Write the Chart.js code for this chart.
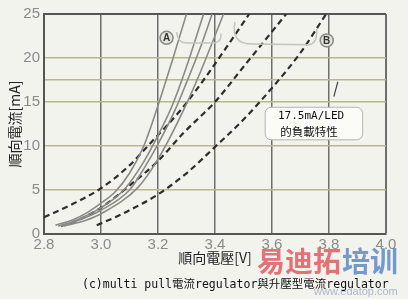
<!DOCTYPE html>
<html>
<head>
<meta charset="utf-8">
<script src="https://cdn.jsdelivr.net/npm/chart.js@4.4.1/dist/chart.umd.min.js"></script>
<style>
    html, body { margin: 0; padding: 0; background: #f3f3ee; }
</style>
</head>
<body>
<canvas id="vf-grafica" width="408" height="299"></canvas>
<script>
const xTicks = [2.8, 3.0, 3.2, 3.4, 3.6, 3.8, 4.0];
const yTicks = [0, 5, 10, 15, 17.5, 20, 25];
const yLabels = [0, 5, 10, 15, 20, 25];

// grupo A (lineas continuas)
const curvaA1 = [[2.84,1.0],[2.9,1.6],[2.95,2.4],[3.0,3.5],[3.05,4.8],[3.1,6.9],[3.15,10.0],[3.2,14.6],[3.25,19.7],[3.3,25]];
const curvaA2 = [[2.85,0.9],[2.9,1.4],[3.0,3.0],[3.08,5.0],[3.15,8.2],[3.2,11.2],[3.25,14.6],[3.3,19.0],[3.36,25]];
const curvaA3 = [[2.86,0.9],[2.9,1.3],[3.0,2.7],[3.1,5.0],[3.15,7.4],[3.2,10.2],[3.26,14.1],[3.3,17.2],[3.35,21.3],[3.39,25]];
const curvaA4 = [[2.87,0.9],[2.95,1.6],[3.0,2.3],[3.13,5.3],[3.2,8.5],[3.29,14.1],[3.35,18.5],[3.43,25]];

// grupo B (lineas de trazos)
const curvaB1 = [[2.8,1.9],[2.9,3.4],[3.0,5.2],[3.1,7.8],[3.17,10.2],[3.28,14.1],[3.36,17.5],[3.44,21.2],[3.52,25]];
const curvaB2 = [[2.86,0.9],[2.9,1.3],[3.0,3.0],[3.1,5.5],[3.2,8.3],[3.29,11.5],[3.36,13.7],[3.4,15.0],[3.5,19.0],[3.6,23.0],[3.65,25]];
const curvaB3 = [[2.985,1.0],[3.05,1.9],[3.1,2.7],[3.2,4.5],[3.3,6.9],[3.4,9.9],[3.5,13.0],[3.6,16.6],[3.7,20.6],[3.79,25]];

const solidas = [curvaA1, curvaA2, curvaA3, curvaA4];
const trazos = [curvaB1, curvaB2, curvaB3];

const notas = {
    id: 'notas',
    beforeDraw(chart) {
        const ctx = chart.ctx;
        ctx.save();
        ctx.fillStyle = '#f3f3ee';
        ctx.fillRect(0, 0, chart.width, chart.height);
        ctx.restore();
    },
    afterDatasetsDraw(chart) {
        const { ctx, scales: { x, y } } = chart;
        const px = v => x.getPixelForValue(v);
        const py = v => y.getPixelForValue(v);
        ctx.save();

        // llaves A y B
        ctx.strokeStyle = '#c4c4bc';
        ctx.lineWidth = 1.5;
        ctx.beginPath();
        ctx.moveTo(px(3.265), py(22.95));
        ctx.quadraticCurveTo(px(3.27), py(21.7), px(3.30), py(21.7));
        ctx.lineTo(px(3.40), py(21.7));
        ctx.quadraticCurveTo(px(3.425), py(21.9), px(3.42), py(22.8));
        ctx.stroke();
        ctx.beginPath();
        ctx.moveTo(px(3.47), py(24.1));
        ctx.quadraticCurveTo(px(3.455), py(21.6), px(3.53), py(21.6));
        ctx.lineTo(px(3.73), py(21.5));
        ctx.quadraticCurveTo(px(3.76), py(21.7), px(3.757), py(23.3));
        ctx.stroke();

        // circulos A y B
        [['A', 3.23, 22.3], ['B', 3.792, 22.0]].forEach(([t, vx, vy]) => {
            ctx.beginPath();
            ctx.arc(px(vx), py(vy), 6.5, 0, Math.PI * 2);
            ctx.fillStyle = '#e2e2de';
            ctx.fill();
            ctx.strokeStyle = '#8a8a86';
            ctx.lineWidth = 1.5;
            ctx.stroke();
            ctx.fillStyle = '#333';
            ctx.font = 'bold 10px "Liberation Sans"';
            ctx.textAlign = 'center';
            ctx.textBaseline = 'middle';
            ctx.fillText(t, px(vx), py(vy) + 0.5);
        });

        // flecha hacia 17.5mA
        ctx.strokeStyle = '#444';
        ctx.lineWidth = 1.2;
        ctx.beginPath();
        ctx.moveTo(px(3.817), py(15.6));
        ctx.lineTo(px(3.831), py(17.3));
        ctx.stroke();

        // recuadro
        const bx = px(3.576), by = py(14.4), bw = px(3.918) - bx, bh = py(10.7) - by;
        ctx.beginPath();
        ctx.roundRect(bx, by, bw, bh, 6);
        ctx.fillStyle = '#fbfbf8';
        ctx.fill();
        ctx.strokeStyle = '#b4b4b0';
        ctx.lineWidth = 1;
        ctx.stroke();
        ctx.fillStyle = '#111';
        ctx.textAlign = 'center';
        ctx.textBaseline = 'middle';
        ctx.font = '11px "DejaVu Sans Mono", "Noto Sans CJK TC"';
        ctx.fillText('17.5mA/LED', px(3.737), by + 9);
        ctx.font = '11.5px "Noto Sans CJK TC"';
        ctx.fillText('的負載特性', px(3.730), by + 24);

        // pie de figura y marca de agua
        ctx.textAlign = 'left';
        ctx.font = '11.5px "DejaVu Sans Mono", "Noto Sans CJK TC"';
        ctx.fillStyle = '#111';
        ctx.fillText('(c)multi pull電流regulator與升壓型電流regulator', 82, 285);

        ctx.globalAlpha = 0.75;
        ctx.font = 'bold 28px "Noto Sans CJK SC"';
        ctx.textBaseline = 'top';
        ctx.fillStyle = '#e0444c';
        ctx.fillText('易迪拓', 257, 247);
        ctx.fillStyle = '#4a7cc0';
        ctx.fillText('培训', 342, 247);
        ctx.globalAlpha = 0.55;
        ctx.font = '11px "Liberation Sans"';
        ctx.fillStyle = '#6a88b8';
        ctx.fillText('www.edatop.com', 314, 286);
        ctx.restore();
    }
};

const ctx = document.querySelector('#vf-grafica').getContext('2d');

new Chart(ctx, {
    type: 'line',
    data: {
        datasets: [
            ...solidas.map(curva => ({
                data: curva.map(p => ({ x: p[0], y: p[1] })),
                borderColor: '#8a8a86',
                borderWidth: 1.6,
                pointRadius: 0,
                cubicInterpolationMode: 'monotone'
            })),
            ...trazos.map(curva => ({
                data: curva.map(p => ({ x: p[0], y: p[1] })),
                borderColor: '#2e2e2e',
                borderWidth: 2.2,
                borderDash: [6, 4],
                pointRadius: 0,
                cubicInterpolationMode: 'monotone'
            }))
        ]
    },
    options: {
        responsive: false,
        animation: false,
        devicePixelRatio: 1,
        layout: { padding: { top: 14, right: 22, bottom: 29, left: 0 } },
        scales: {
            x: {
                type: 'linear',
                min: 2.8,
                max: 4.0,
                afterBuildTicks: scale => { scale.ticks = xTicks.map(v => ({ value: v })); },
                afterFit: scale => { scale.height = 36; },
                ticks: {
                    color: '#8a8a8a',
                    font: { family: 'Liberation Sans', size: 15 },
                    padding: 2,
                    maxRotation: 0,
                    callback: v => v.toFixed(1)
                },
                grid: {
                    drawTicks: false,
                    color: '#6e6e6e',
                    lineWidth: c => (c.tick && c.tick.value === 4.0 ? 2 : 1.5)
                },
                border: { color: '#555', width: 2 },
                title: {
                    display: true,
                    text: '順向電壓[V]',
                    color: '#222',
                    font: { family: 'Noto Sans CJK TC', size: 14 },
                    padding: { top: 0, bottom: 4 }
                }
            },
            y: {
                min: 0,
                max: 25,
                afterBuildTicks: scale => { scale.ticks = yTicks.map(v => ({ value: v })); },
                afterFit: scale => { scale.width = 44; },
                ticks: {
                    color: '#8a8a8a',
                    font: { family: 'Liberation Sans', size: 15 },
                    padding: 4,
                    callback: v => (yLabels.includes(v) ? String(v) : '')
                },
                grid: {
                    drawTicks: false,
                    color: c => (c.tick && (c.tick.value === 25 || c.tick.value === 0) ? '#555' : '#b8b88e'),
                    lineWidth: c => (c.tick && c.tick.value === 25 ? 2 : 1.5)
                },
                border: { color: '#555', width: 2 },
                title: {
                    display: true,
                    text: '順向電流[mA]',
                    color: '#222',
                    font: { family: 'Noto Sans CJK TC', size: 14 },
                    padding: { top: 6, bottom: 0 }
                }
            }
        },
        plugins: {
            legend: { display: false },
            tooltip: { enabled: false }
        }
    },
    plugins: [notas]
});
</script>
</body>
</html>
